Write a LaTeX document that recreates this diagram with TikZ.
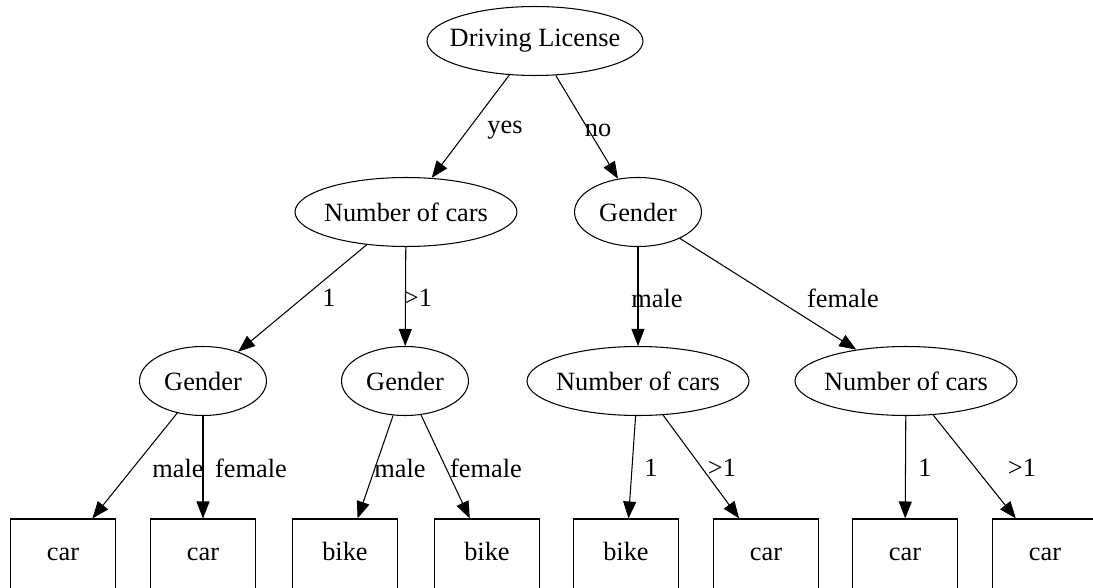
\documentclass[tikz,border=0pt]{standalone}
\usepackage{fontspec}
\setmainfont{Liberation Serif}
\usetikzlibrary{shapes.geometric,arrows.meta}
\tikzset{
    EL1/.style ={ellipse, draw, minimum width = 2.54cm, minimum height = 1.38cm, inner sep=0pt},
    EL2/.style ={ellipse, draw, minimum width = 4.44cm, minimum height = 1.38cm, inner sep=0pt},
    RA1/.style ={rectangle, draw, minimum width = 2.1cm, minimum height = 1.44cm, text height=1.6ex, text depth=0.3ex},
    AR/.style ={-{Triangle[length=0.34cm,width=0.26cm]}},
    LB/.style ={inner sep=0pt}
}

\begin{document}
\begin{tikzpicture}[x=0.02cm, y=-0.02cm, line width=0.6pt,
        font=\fontsize{15}{18}\selectfont]
    \useasboundingbox (0,0) rectangle (1093,588);
    % tree nodes
    \node[EL2, minimum width=4.32cm, label=center:Driving License] (root) at (535,41) {};
    \node[EL2, label=center:Number of cars] (ncA) at (406,212) {};
    \node[EL1, label=center:Gender] (gA) at (638,212) {};
    \node[EL1, label=center:Gender] (gB) at (203,381) {};
    \node[EL1, label=center:Gender] (gC) at (405,381) {};
    \node[EL2, label=center:Number of cars] (ncB) at (638,381) {};
    \node[EL2, label=center:Number of cars] (ncC) at (906,381) {};
    % leaves
    \node[RA1] (l1) at (63,555) {car};
    \node[RA1] (l2) at (203,555) {car};
    \node[RA1] (l3) at (345,555) {bike};
    \node[RA1] (l4) at (487,555) {bike};
    \node[RA1] (l5) at (626,555) {bike};
    \node[RA1] (l6) at (766,555) {car};
    \node[RA1] (l7) at (905,555) {car};
    \node[RA1] (l8) at (1045,555) {car};
    % edges
    \draw[AR] (root) -- (ncA);
    \draw[AR] (root) -- (gA);
    \draw[AR] (ncA) -- (gB);
    \draw[AR] (ncA) -- (gC);
    \draw[AR] (gA) -- (ncB);
    \draw[AR] (gA) -- (ncC);
    \draw[AR] (gB) -- (l1);
    \draw[AR] (gB) -- (l2);
    \draw[AR] (gC) -- (l3);
    \draw[AR] (gC) -- (l4);
    \draw[AR] (ncB) -- (l5);
    \draw[AR] (ncB) -- (l6);
    \draw[AR] (ncC) -- (l7);
    \draw[AR] (ncC) -- (l8);
    % edge labels
    \node[LB] (tyes) at (505,130) {yes};
    \node[LB] (tno) at (598,130) {no};
    \node[LB] (tA1) at (329,298) {1};
    \node[LB] (tA2) at (418,298) {>1};
    \node[LB] (tB1) at (657,298) {male};
    \node[LB] (tB2) at (843,298) {female};
    \node[LB] (tC1) at (178,468) {male};
    \node[LB] (tC2) at (251,468) {female};
    \node[LB] (tD1) at (400,468) {male};
    \node[LB] (tD2) at (486,468) {female};
    \node[LB] (tE1) at (651,468) {1};
    \node[LB] (tE2) at (722,468) {>1};
    \node[LB] (tF1) at (925,468) {1};
    \node[LB] (tF2) at (1022,468) {>1};
\end{tikzpicture}
\end{document}
